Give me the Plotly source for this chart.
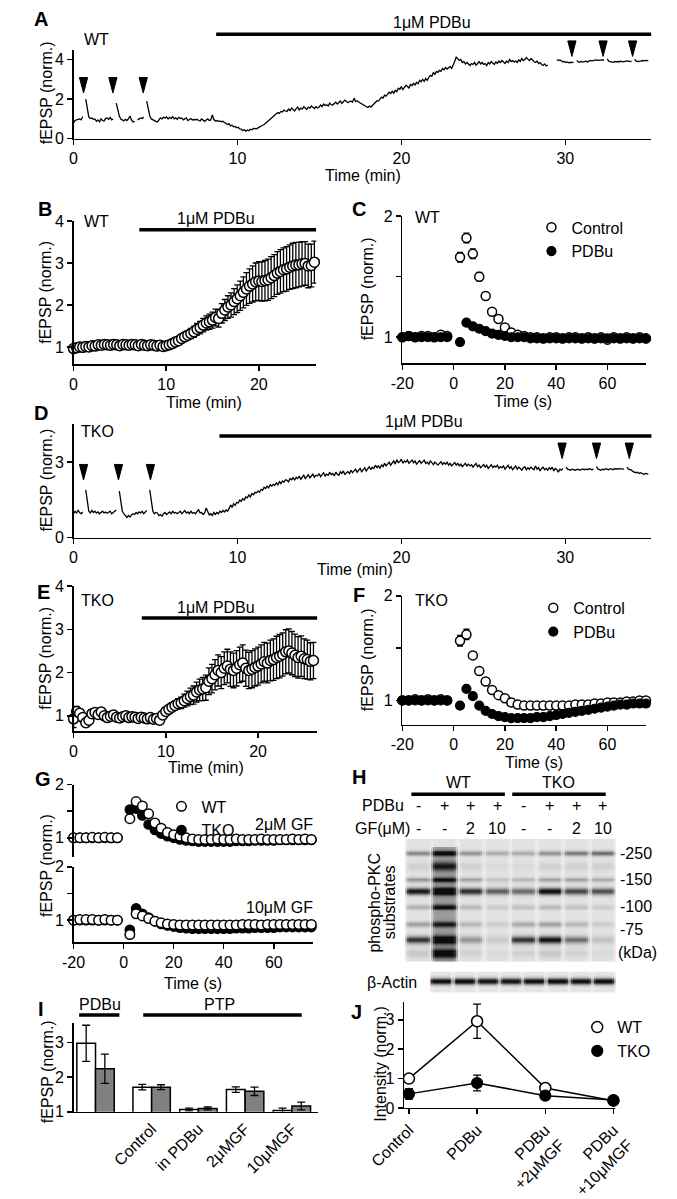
import numpy as np
import plotly.graph_objects as go

W, H = 677, 1199
FONT = "Liberation Sans, Arial, Helvetica, sans-serif"
FS = 16

# ======================= DATA =======================
# Panel A - WT single experiment, one sample every 0.093 min (None = gap during tetanus)
A_step = 0.093
A_rows = [
 [0.80,0.92,0.95,0.98,1.00,0.95,1.12,None,2.00,1.55],
 [1.10,1.02,1.05,0.98,1.00,0.88,0.95,0.85,1.00,0.92],
 [0.90,1.02,1.05,0.98,1.08,0.95,1.00,None,1.80,1.45],
 [1.15,1.00,0.95,0.90,0.98,0.92,1.00,1.15,0.95,0.85],
 [0.88,None,0.95,1.00,1.05,1.02,1.10,None,1.90,1.50],
 [1.15,1.00,0.95,0.92,0.88,0.85,0.95,1.05,1.00,1.08],
 [1.05,1.10,1.00,1.08,1.02,1.12,1.00,1.05,0.98,1.08],
 [1.02,1.05,0.95,1.00,1.05,0.92,0.98,1.02,0.95,0.97],
 [0.95,0.98,0.92,0.90,1.00,0.95,0.88,0.95,1.00,0.92],
 [0.95,1.20,0.98,0.90,0.92,0.88,0.90,0.85,0.88,0.82],
 [0.78,0.72,0.75,0.65,0.68,0.60,0.62,0.55,0.58,0.50],
 [0.48,0.42,0.45,0.38,0.44,0.40,0.48,0.45,0.52,0.50],
 [0.50,0.55,0.58,0.62,0.68,0.72,0.78,0.85,0.90,0.98],
 [1.05,1.12,1.20,1.25,1.32,1.28,1.38,1.35,1.45,1.40],
 [1.38,1.50,1.42,1.55,1.48,1.40,1.52,1.60,1.45,1.55],
 [1.50,1.62,1.55,1.48,1.60,1.55,1.65,1.58,1.52,1.62],
 [1.55,1.60,1.70,1.62,1.75,1.68,1.72,1.65,1.80,1.72],
 [1.70,1.78,1.85,1.75,1.82,1.90,1.78,1.85,1.95,1.88],
 [1.82,1.88,1.90,1.85,2.05,1.88,1.92,1.85,1.80,1.75],
 [1.72,1.68,1.62,1.58,1.65,1.60,1.68,1.75,1.80,1.92],
 [1.90,2.00,2.10,2.05,2.20,2.15,2.25,2.35,2.28,2.40],
 [2.30,2.45,2.38,2.55,2.50,2.62,2.48,2.60,2.70,2.65],
 [2.55,2.75,2.68,2.80,2.72,2.85,2.78,2.95,2.88,3.00],
 [2.90,3.05,2.95,3.10,3.20,3.15,3.35,3.25,3.40,3.35],
 [3.45,3.40,3.55,3.48,3.60,3.52,3.58,3.65,3.55,3.70],
 [3.90,4.12,4.05,3.95,4.00,3.85,3.90,3.78,3.85,3.75],
 [3.70,3.80,3.75,3.85,3.72,3.80,3.90,3.78,3.85,3.75],
 [3.80,3.70,3.85,3.78,3.90,3.82,3.75,3.88,3.80,3.92],
 [3.85,3.95,3.88,3.80,3.92,3.85,4.00,3.90,3.95,3.88],
 [3.92,3.85,3.98,3.90,4.05,3.95,4.00,4.10,4.02,3.95],
 [4.05,3.95,3.90,3.85,3.92,3.80,3.85,3.75,3.70,3.78],
 [3.68,3.72,None,None,None,None,None,4.00,3.95,3.98],
 [3.92,3.88,3.90,3.85,3.88,3.84,3.85,3.84,3.86,None],
 [3.96,3.88,3.86,3.90,3.87,3.90,3.92,3.88,3.92,3.95],
 [3.93,3.96,3.95,3.98,3.96,3.97,3.95,3.98,3.96,None],
 [4.04,3.92,3.90,3.88,3.86,3.90,3.88,3.90,3.89,3.92],
 [3.88,3.90,3.92,3.93,3.92,3.90,3.92,None,4.02,3.92],
 [3.90,3.93,3.92,3.95,3.93,3.96,3.94,3.95],
]
A_pdbu_on, A_pdbu_off = 8.7, 35.25
A_arrow_t = [0.61, 2.40, 4.25, 30.4, 32.3, 34.1]
A_arrow_y = [2.7, 2.7, 2.7, 4.55, 4.55, 4.55]

# Panel D - TKO single experiment, one sample every 0.093 min
D_step = 0.093
D_rows = [
 [0.95,1.05,0.98,1.08,1.00,0.95,1.02,None,1.90,1.40],
 [1.05,0.98,1.08,1.00,1.05,0.98,1.02,0.95,1.00,1.05],
 [0.98,1.02,0.97,1.00,1.05,0.95,1.00,1.05,1.10,None],
 [1.85,1.40,1.05,0.95,0.85,0.80,0.88,0.82,0.90,0.95],
 [0.92,1.00,0.95,1.02,0.98,1.05,0.95,1.00,1.08,None],
 [1.90,1.35,1.05,0.95,1.00,0.98,0.88,0.92,0.85,0.95],
 [1.00,0.92,0.98,1.02,0.95,1.05,0.98,1.00,0.95,1.02],
 [1.05,0.95,1.00,1.08,0.98,1.02,0.95,1.05,0.97,1.00],
 [0.95,1.05,1.12,0.98,1.00,0.92,0.98,1.18,1.00,0.90],
 [0.95,0.88,1.00,0.92,1.00,0.95,1.05,1.00,1.08,1.02],
 [1.10,1.05,1.15,1.30,1.20,1.35,1.28,1.40,1.38,1.50],
 [1.45,1.55,1.50,1.62,1.58,1.70,1.62,1.75,1.70,1.80],
 [1.78,1.85,1.80,1.92,1.88,2.00,1.95,2.05,1.98,2.10],
 [2.05,2.12,2.08,2.18,2.10,2.22,2.15,2.25,2.20,2.30],
 [2.28,2.22,2.35,2.30,2.38,2.28,2.40,2.35,2.45,2.32],
 [2.40,2.48,2.35,2.42,2.50,2.38,2.45,2.52,2.40,2.48],
 [2.45,2.55,2.42,2.50,2.58,2.45,2.52,2.48,2.60,2.50],
 [2.55,2.45,2.60,2.52,2.48,2.62,2.55,2.65,2.50,2.58],
 [2.62,2.55,2.68,2.58,2.65,2.72,2.60,2.68,2.75,2.62],
 [2.70,2.78,2.65,2.75,2.82,2.70,2.80,2.75,2.88,2.78],
 [2.85,2.75,2.90,2.82,2.95,2.85,2.92,3.00,2.88,2.95],
 [3.05,2.92,3.10,2.98,3.02,3.12,2.95,3.05,3.00,3.08],
 [2.95,3.02,3.08,2.98,3.05,2.92,3.00,3.06,2.95,3.02],
 [3.08,2.95,3.00,2.92,3.05,2.98,2.90,3.00,2.95,2.88],
 [2.95,3.02,2.90,2.98,2.92,3.00,2.88,2.95,2.85,2.92],
 [2.98,2.88,2.95,2.85,2.92,2.82,2.90,2.95,2.85,2.92],
 [2.85,2.90,2.80,2.88,2.95,2.82,2.88,2.78,2.85,2.90],
 [2.80,2.88,2.75,2.82,2.90,2.78,2.85,2.80,2.88,2.75],
 [2.82,2.78,2.85,2.72,2.80,2.88,2.75,2.82,2.70,2.78],
 [2.85,2.72,2.80,2.75,2.68,2.78,2.82,2.70,2.78,2.72],
 [2.80,2.75,2.70,2.85,2.72,2.78,2.65,2.75,2.80,2.70],
 [2.75,2.68,2.78,2.72,2.80,2.65,2.75,2.70,2.60,2.72],
 [2.68,2.75,None,2.80,2.72,2.70,2.68,2.72,2.70,2.68],
 [2.70,2.72,2.68,2.70,2.73,2.70,2.72,2.70,2.74,2.72],
 [2.70,2.72,None,2.82,2.72,2.70,2.68,2.72,2.70,2.74],
 [2.72,2.70,2.74,2.72,2.70,2.75,2.72,2.74,2.73,2.72],
 [2.74,2.72,None,2.80,2.72,2.70,2.68,2.62,2.60,2.58],
 [2.60,2.55,2.58,2.55,2.52,2.55,2.53,2.52],
]
D_pdbu_on, D_pdbu_off = 8.9, 35.55
D_arrow_t = [0.61, 2.74, 4.69, 29.8, 31.9, 33.9]
D_arrow_y = [2.6, 2.6, 2.6, 3.45, 3.45, 3.45]

# Panel B - WT average, one point every 20 s (1/3 min)
B_mean = [0.96,0.98,1.00,0.99,1.01,1.00,1.03,1.02,1.05,1.04,1.06,1.05,1.04,1.06,1.05,1.03,
          1.06,1.05,1.04,1.06,1.05,1.03,1.06,1.04,1.03,1.05,1.04,1.02,1.04,1.01,1.03,
          1.05,1.08,1.12,1.15,1.20,1.24,1.28,1.32,1.36,1.42,1.46,1.52,1.57,1.60,1.64,1.70,
          1.68,1.80,1.88,1.95,2.00,2.08,2.15,2.22,2.30,2.38,2.45,2.50,2.55,2.57,2.56,2.58,
          2.60,2.65,2.70,2.76,2.80,2.84,2.86,2.90,2.93,2.95,2.96,2.98,2.99,2.93,2.94,3.02]
B_sem = [0.05,0.04,0.05,0.05,0.04,0.05,0.06,0.05,0.05,0.06,0.05,0.05,0.06,0.05,0.06,0.05,
         0.06,0.05,0.06,0.06,0.05,0.06,0.06,0.05,0.06,0.06,0.07,0.06,0.07,0.08,0.07,
         0.07,0.08,0.08,0.09,0.10,0.10,0.11,0.12,0.13,0.14,0.15,0.16,0.17,0.18,0.19,0.20,
         0.21,0.23,0.25,0.27,0.29,0.31,0.33,0.35,0.37,0.39,0.41,0.43,0.45,0.46,0.47,0.48,
         0.49,0.50,0.50,0.51,0.52,0.52,0.53,0.53,0.54,0.54,0.53,0.53,0.52,0.52,0.51,0.50]
B_pdbu_on, B_pdbu_off = 7.1, 26.2

# Panel E - TKO average, one point every 20 s
E_mean = [0.93,1.10,1.06,0.96,0.84,0.90,1.05,1.08,1.03,1.09,1.00,0.96,0.99,1.02,0.97,
          0.95,0.98,1.00,0.96,0.98,0.97,0.94,0.97,0.95,0.93,0.96,0.92,0.94,0.90,1.02,
          1.10,1.15,1.20,1.24,1.28,1.30,1.35,1.40,1.45,1.48,1.55,1.60,1.62,1.65,1.80,
          1.86,1.95,2.05,2.00,2.10,2.15,2.08,2.05,2.10,2.18,2.22,2.10,2.05,2.08,2.12,
          2.15,2.20,2.25,2.22,2.28,2.30,2.35,2.38,2.42,2.48,2.50,2.45,2.40,2.35,2.38,
          2.32,2.30,2.26,2.28]
E_sem = [0.20,0.12,0.10,0.08,0.09,0.07,0.06,0.06,0.05,0.06,0.05,0.05,0.05,0.05,0.05,
         0.05,0.05,0.05,0.05,0.05,0.05,0.05,0.05,0.05,0.05,0.05,0.05,0.05,0.06,0.06,
         0.07,0.08,0.09,0.10,0.12,0.13,0.15,0.17,0.19,0.21,0.23,0.25,0.27,0.29,0.31,
         0.33,0.35,0.36,0.37,0.38,0.39,0.40,0.40,0.41,0.41,0.42,0.42,0.42,0.43,0.43,
         0.44,0.44,0.45,0.46,0.47,0.48,0.49,0.50,0.50,0.51,0.51,0.50,0.49,0.48,0.47,
         0.46,0.45,0.43,0.42]
E_pdbu_on, E_pdbu_off = 7.4, 26.7

# PTP time course (s) for C, F, G
S_t = [-20,-17.5,-15,-12.5,-10,-7.5,-5,-2.5,
       2.5,5,7.5,10,12.5,15,17.5,20,22.5,25,27.5,30,32.5,35,37.5,40,42.5,45,
       47.5,50,52.5,55,57.5,60,62.5,65,67.5,70,72.5,75]
C_ctrl = [1.00,1.01,1.00,1.01,1.01,1.00,1.02,1.01,
          1.66,1.82,1.69,1.50,1.34,1.21,1.15,1.08,1.04,1.02,1.01,1.00,1.00,0.99,1.00,
          1.00,0.99,1.00,1.00,0.99,1.00,0.99,1.00,0.98,1.00,0.99,1.00,0.99,1.00,0.99]
C_ctrl_sem = [0.015,0.015,0.015,0.015,0.015,0.015,0.015,0.015,
              0.04,0.04,0.04,0.035,0.03,0.025,0.02,0.02,0.015,0.015,0.01,0.01,0.01,0.01,0.01,
              0.01,0.01,0.01,0.01,0.01,0.01,0.01,0.01,0.01,0.01,0.01,0.01,0.01,0.01,0.01]
C_pdbu = [1.00,1.01,1.00,1.00,1.00,1.00,1.00,1.00,
          0.96,1.12,1.09,1.07,1.05,1.03,1.02,1.01,1.00,1.00,1.00,0.99,0.99,0.99,0.99,
          0.99,0.99,0.99,0.99,0.99,0.99,0.99,0.99,0.99,0.99,0.99,0.99,0.99,0.99,0.99]
F_ctrl = [1.00,1.00,1.01,1.00,1.01,1.00,1.01,1.00,
          1.57,1.63,1.43,1.28,1.18,1.10,1.05,1.02,0.98,0.96,0.95,0.95,0.95,0.95,0.95,
          0.95,0.95,0.95,0.96,0.96,0.96,0.97,0.97,0.98,0.98,0.98,0.99,0.99,1.00,1.00]
F_ctrl_sem = [0.015,0.015,0.015,0.015,0.015,0.015,0.015,0.015,
              0.05,0.05,0.03,0.025,0.02,0.02,0.015,0.015,0.01,0.01,0.01,0.01,0.01,0.01,0.01,
              0.01,0.01,0.01,0.01,0.01,0.01,0.01,0.01,0.01,0.01,0.01,0.01,0.01,0.01,0.01]
F_pdbu = [1.00,1.00,1.00,1.00,1.00,1.00,1.00,1.00,
          0.95,1.11,1.04,0.95,0.90,0.87,0.85,0.84,0.83,0.83,0.83,0.83,0.84,0.84,0.85,
          0.86,0.87,0.88,0.89,0.90,0.91,0.92,0.93,0.94,0.95,0.96,0.96,0.97,0.97,0.97]
G2_wt = [1.00,1.00,1.00,1.01,1.00,1.01,1.00,1.00,
         1.36,1.68,1.60,1.45,1.28,1.18,1.10,1.06,1.03,1.00,0.98,0.97,0.97,0.97,0.98,
         0.97,0.97,0.98,0.97,0.97,0.97,0.98,0.97,0.97,0.97,0.97,0.98,0.97,0.98,0.97]
G2_tko = [1.00,1.00,1.00,1.00,1.00,1.00,1.00,1.00,
          1.53,1.55,1.42,1.25,1.15,1.08,1.03,1.00,0.97,0.95,0.94,0.93,0.93,0.93,0.93,
          0.93,0.93,0.94,0.94,0.94,0.95,0.95,0.95,0.95,0.96,0.96,0.96,0.96,0.96,0.96]
G10_wt = [1.00,1.01,1.01,1.01,1.00,1.01,1.00,1.00,
          0.73,1.12,1.08,1.03,0.98,0.95,0.93,0.92,0.91,0.91,0.91,0.91,0.91,0.91,0.91,
          0.91,0.91,0.91,0.92,0.92,0.92,0.91,0.92,0.92,0.92,0.92,0.92,0.92,0.92,0.92]
G10_tko = [1.00,1.00,1.00,1.00,1.00,1.00,1.00,1.00,
           0.82,1.22,1.12,1.05,0.98,0.93,0.90,0.88,0.86,0.85,0.84,0.84,0.84,0.84,0.84,
           0.84,0.84,0.85,0.85,0.85,0.86,0.86,0.86,0.86,0.87,0.87,0.87,0.87,0.87,0.87]

# Panel I - bar summary
I_cats = ["PDBu", "Control", "in PDBu", "2μMGF", "10μMGF"]
I_wt = [2.97, 1.71, 1.07, 1.64, 1.04]
I_wt_sem = [0.52, 0.08, 0.04, 0.08, 0.07]
I_tko = [2.24, 1.71, 1.10, 1.59, 1.17]
I_tko_sem = [0.42, 0.07, 0.04, 0.12, 0.11]

# Panel J - western blot quantification
J_cats = ["Control", "PDBu", "PDBu<br>+2μMGF", "PDBu<br>+10μMGF"]
J_wt = [1.00, 2.95, 0.68, 0.25]
J_wt_sem = [0.04, 0.58, 0.10, 0.03]
J_tko = [0.48, 0.85, 0.42, 0.27]
J_tko_sem = [0.18, 0.27, 0.06, 0.03]

# Panel H - blot lanes and band table (row from blot top, sigma, intensity per lane)
H_pdbu = ["-", "+", "+", "+", "-", "+", "+", "+"]
H_gf = ["-", "-", "2", "10", "-", "-", "2", "10"]
H_kda = ["-250", "-150", "-100", "-75"]
H_bands = [
    (15, 1.8, [0.40, 0.70, 0.35, 0.25, 0.25, 0.35, 0.45, 0.50]),
    (28, 3.0, [0.08, 0.55, 0.08, 0.04, 0.04, 0.08, 0.08, 0.08]),
    (42, 2.0, [0.35, 0.70, 0.30, 0.15, 0.20, 0.30, 0.30, 0.25]),
    (54, 2.5, [0.85, 1.00, 0.75, 0.55, 0.50, 0.90, 0.65, 0.60]),
    (70, 2.0, [0.22, 0.60, 0.18, 0.10, 0.15, 0.18, 0.15, 0.10]),
    (88, 2.0, [0.30, 0.55, 0.20, 0.10, 0.25, 0.30, 0.20, 0.10]),
    (104, 3.0, [0.75, 1.00, 0.35, 0.12, 0.75, 0.90, 0.50, 0.15]),
    (118, 3.0, [0.12, 0.80, 0.08, 0.04, 0.08, 0.12, 0.08, 0.04]),
]
H_smear = [(1, 8, 126, 0.32)]
H_actin = [0.92, 0.95, 0.90, 0.90, 0.92, 0.95, 0.92, 0.95]

# ======================= HELPERS =======================
def flat(rows):
    out = []
    for r in rows:
        out += r
    return out

def fx(p):
    return p / W

def fy(p):
    return 1 - p / H

def dx(a, b):
    return [fx(a), fx(b)]

def dy(top, bot):
    return [fy(bot), fy(top)]

def axis(**kw):
    d = dict(showline=True, linecolor="black", linewidth=1.5, ticks="outside",
             ticklen=5, tickwidth=1.5, tickcolor="black", showgrid=False,
             zeroline=False, fixedrange=True,
             tickfont=dict(size=FS, family=FONT, color="black"))
    d.update(kw)
    return d

def hidden(**kw):
    d = dict(visible=False, showgrid=False, zeroline=False, fixedrange=True)
    d.update(kw)
    return d

def txt(text, x, y, size=FS, xa="center", ya="middle", bold=False, angle=0,
        xref="paper"):
    xv = fx(x) if xref == "paper" else x
    return dict(text=("<b>%s</b>" % text) if bold else text, x=xv, y=fy(y),
                xref=xref, yref="paper", xanchor=xa, yanchor=ya, showarrow=False,
                textangle=angle, font=dict(size=size, family=FONT, color="black"))

def hline(x0, x1, y, xref="paper", w=3.5):
    if xref == "paper":
        x0, x1 = fx(x0), fx(x1)
    return dict(type="line", xref=xref, yref="paper", x0=x0, x1=x1,
                y0=fy(y), y1=fy(y), line=dict(color="black", width=w))

def arrows(ts, ys, ppx, ppy, w=9.0, h=16.0):
    xs, yy = [], []
    for t, v in zip(ts, ys):
        hw, hh = w / 2 / ppx, h / 2 / ppy
        xs += [t - hw, t + hw, t, t - hw, None]
        yy += [v + hh, v + hh, v - hh, v + hh, None]
    return xs, yy

OPEN = dict(symbol="circle", color="white", line=dict(color="black", width=1.5))
FILL = dict(symbol="circle", color="black", line=dict(color="black", width=1.2))

def mk(base, size):
    m = dict(base)
    m["size"] = size
    return m

def eb(arr, width=3):
    return dict(type="data", array=arr, color="black", thickness=1.3, width=width)

PPX_AD = 631 / 35.25   # px per minute on A and D

fig = go.Figure()

# ---------- A ----------
A_vals = flat(A_rows)
A_t = [round(i * A_step, 3) for i in range(len(A_vals))]
fig.add_trace(go.Scatter(x=A_t, y=A_vals, mode="lines", connectgaps=False,
                         line=dict(color="black", width=1.3), xaxis="x", yaxis="y",
                         showlegend=False, hoverinfo="skip"))
ax_, ay_ = arrows(A_arrow_t, A_arrow_y, PPX_AD, 92 / 4.5)
fig.add_trace(go.Scatter(x=ax_, y=ay_, mode="lines", fill="toself", fillcolor="black",
                         line=dict(color="black", width=1), xaxis="x13", yaxis="y13",
                         showlegend=False, hoverinfo="skip"))

# ---------- D ----------
D_vals = flat(D_rows)
D_t = [round(i * D_step, 3) for i in range(len(D_vals))]
fig.add_trace(go.Scatter(x=D_t, y=D_vals, mode="lines", connectgaps=False,
                         line=dict(color="black", width=1.3), xaxis="x4", yaxis="y4",
                         showlegend=False, hoverinfo="skip"))
dx_, dy_ = arrows(D_arrow_t, D_arrow_y, PPX_AD, 117 / 4.5)
fig.add_trace(go.Scatter(x=dx_, y=dy_, mode="lines", fill="toself", fillcolor="black",
                         line=dict(color="black", width=1), xaxis="x4", yaxis="y4",
                         showlegend=False, hoverinfo="skip"))

# ---------- B / E ----------
B_t = [i / 3 for i in range(len(B_mean))]
fig.add_trace(go.Scatter(x=B_t, y=B_mean, mode="markers", marker=mk(OPEN, 10),
                         error_y=eb(B_sem), xaxis="x2", yaxis="y2", cliponaxis=False,
                         showlegend=False))
E_t = [i / 3 for i in range(len(E_mean))]
fig.add_trace(go.Scatter(x=E_t, y=E_mean, mode="markers", marker=mk(OPEN, 10),
                         error_y=eb(E_sem), xaxis="x5", yaxis="y5", cliponaxis=False,
                         showlegend=False))

# ---------- C / F ----------
for (ctrl, csem, pd, xa, ya, lg) in [(C_ctrl, C_ctrl_sem, C_pdbu, "x3", "y3", "legend"),
                                     (F_ctrl, F_ctrl_sem, F_pdbu, "x6", "y6", "legend2")]:
    fig.add_trace(go.Scatter(x=S_t, y=ctrl, mode="markers", marker=mk(OPEN, 9),
                             error_y=eb(csem), xaxis=xa, yaxis=ya, cliponaxis=False,
                             name="Control", legend=lg))
    fig.add_trace(go.Scatter(x=S_t, y=pd, mode="markers", marker=mk(FILL, 9),
                             xaxis=xa, yaxis=ya, cliponaxis=False, name="PDBu", legend=lg))

# ---------- G ----------
fig.add_trace(go.Scatter(x=S_t, y=G2_tko, mode="markers", marker=mk(FILL, 9.5),
                         xaxis="x7", yaxis="y7", cliponaxis=False, showlegend=False))
fig.add_trace(go.Scatter(x=S_t, y=G2_wt, mode="markers", marker=mk(OPEN, 9.5),
                         xaxis="x7", yaxis="y7", cliponaxis=False, showlegend=False))
fig.add_trace(go.Scatter(x=S_t, y=G10_tko, mode="markers", marker=mk(FILL, 9.5),
                         xaxis="x8", yaxis="y8", cliponaxis=False, showlegend=False))
fig.add_trace(go.Scatter(x=S_t, y=G10_wt, mode="markers", marker=mk(OPEN, 9.5),
                         xaxis="x8", yaxis="y8", cliponaxis=False, showlegend=False))
fig.add_trace(go.Scatter(x=[None], y=[None], mode="markers", marker=mk(OPEN, 9.5),
                         xaxis="x7", yaxis="y7", name="WT", legend="legend3"))
fig.add_trace(go.Scatter(x=[None], y=[None], mode="markers", marker=mk(FILL, 9.5),
                         xaxis="x7", yaxis="y7", name="TKO", legend="legend3"))

# ---------- I ----------
I_pos = [0, 1.2, 2.2, 3.2, 4.2]
fig.add_trace(go.Bar(x=[p - 0.2 for p in I_pos], y=I_wt, width=0.4,
                     marker=dict(color="white", line=dict(color="black", width=1.5)),
                     error_y=eb(I_wt_sem, 4), xaxis="x9", yaxis="y9", showlegend=False))
fig.add_trace(go.Bar(x=[p + 0.2 for p in I_pos], y=I_tko, width=0.4,
                     marker=dict(color="#808080", line=dict(color="black", width=1.5)),
                     error_y=eb(I_tko_sem, 4), xaxis="x9", yaxis="y9", showlegend=False))

# ---------- J ----------
J_x = list(range(len(J_cats)))
fig.add_trace(go.Scatter(x=J_x, y=J_wt, mode="lines", line=dict(color="black", width=1.5),
                         xaxis="x10", yaxis="y10", showlegend=False))
fig.add_trace(go.Scatter(x=J_x, y=J_tko, mode="lines", line=dict(color="black", width=1.5),
                         xaxis="x10", yaxis="y10", showlegend=False))
fig.add_trace(go.Scatter(x=J_x, y=J_wt, mode="markers", marker=mk(OPEN, 11),
                         error_y=eb(J_wt_sem, 4), xaxis="x10", yaxis="y10",
                         cliponaxis=False, name="WT", legend="legend4"))
fig.add_trace(go.Scatter(x=J_x, y=J_tko, mode="markers", marker=mk(FILL, 11),
                         error_y=eb(J_tko_sem, 4), xaxis="x10", yaxis="y10",
                         cliponaxis=False, name="TKO", legend="legend4"))

# ---------- H blot ----------
SUB = 14
prof = [0.45, 0.85] + [1.0] * (SUB - 4) + [0.85, 0.45]
n_lanes = len(H_pdbu)
bx = [L - 0.5 + (j + 0.5) / SUB for L in range(n_lanes) for j in range(SUB)]
rows_n = 127
Z = []
for r in range(rows_n):
    row = []
    for L in range(n_lanes):
        v = 0.10
        for (rc, sg, ints) in H_bands:
            v += ints[L] * np.exp(-0.5 * ((r - rc) / sg) ** 2)
        for (lane, r0, r1, lev) in H_smear:
            if lane == L and r0 <= r <= r1:
                v += lev
        v = min(v, 1.0)
        for j in range(SUB):
            row.append(v * prof[j])
    Z.append(row)
CS = [[0, "#f2f2f2"], [0.1, "#e2e2e2"], [0.4, "#a0a0a0"], [0.7, "#505050"], [1, "#0c0c0c"]]
fig.add_trace(go.Heatmap(z=Z, x=bx, y=list(range(rows_n)), colorscale=CS, zmin=0, zmax=1,
                         showscale=False, xaxis="x11", yaxis="y11", hoverinfo="skip"))
Za = []
for r in range(22):
    row = []
    for L in range(n_lanes):
        v = 0.08 + H_actin[L] * np.exp(-0.5 * ((r - 10) / 2.3) ** 2)
        v = min(v, 1.0)
        for j in range(SUB):
            row.append(v * prof[j])
    Za.append(row)
fig.add_trace(go.Heatmap(z=Za, x=bx, y=list(range(22)), colorscale=CS, zmin=0, zmax=1,
                         showscale=False, xaxis="x12", yaxis="y12", hoverinfo="skip"))

# ======================= LAYOUT =======================
lay = dict(width=W, height=H, margin=dict(l=0, r=0, t=0, b=0),
           paper_bgcolor="white", plot_bgcolor="rgba(0,0,0,0)",
           font=dict(family=FONT, size=FS, color="black"), bargap=0)

S_ticks = dict(tickvals=[-20, 0, 20, 40, 60], ticktext=["-20", "0", "20", "40", "60"])

lay["xaxis"] = axis(domain=dx(41, 672), range=[0, 35.25], tickvals=[0, 10, 20, 30], anchor="y")
lay["yaxis"] = axis(domain=dy(43, 135), range=[0, 4.5], tickvals=[0, 2, 4], anchor="x")
lay["xaxis13"] = hidden(domain=dx(41, 672), range=[0, 35.25], anchor="y13")
lay["yaxis13"] = hidden(domain=dy(8, 135), range=[0, 127 / (92 / 4.5)], anchor="x13")

lay["xaxis2"] = axis(domain=dx(41, 306), range=[0, 26.2], tickvals=[0, 10, 20], anchor="y2")
lay["yaxis2"] = axis(domain=dy(220, 368), range=[0.585, 4], tickvals=[1, 2, 3, 4], anchor="x2")

lay["xaxis3"] = axis(domain=dx(400, 666), range=[-20, 75], anchor="y3", **S_ticks)
lay["yaxis3"] = axis(domain=dy(215, 367), range=[0.784, 2], tickvals=[1, 1.5, 2],
                     ticktext=["1", "", "2"], anchor="x3")

lay["xaxis4"] = axis(domain=dx(41, 672), range=[0, 35.25], tickvals=[0, 10, 20, 30], anchor="y4")
lay["yaxis4"] = axis(domain=dy(430, 547), range=[0, 4.5], tickvals=[0, 3], anchor="x4")

lay["xaxis5"] = axis(domain=dx(41, 307), range=[0, 26.4], tickvals=[0, 10, 20], anchor="y5")
lay["yaxis5"] = axis(domain=dy(597, 747), range=[0.642, 4], tickvals=[1, 2, 3, 4], anchor="x5")

lay["xaxis6"] = axis(domain=dx(400, 666), range=[-20, 75], anchor="y6", **S_ticks)
lay["yaxis6"] = axis(domain=dy(607, 740), range=[0.769, 2], tickvals=[1, 1.5, 2],
                     ticktext=["1", "", "2"], anchor="x6")

lay["xaxis7"] = hidden(domain=dx(41, 302), range=[-20, 75.5], anchor="y7")
lay["yaxis7"] = axis(domain=dy(802, 877), range=[0.636, 2], tickvals=[1, 1.5, 2],
                     ticktext=["1", "", "2"], anchor="x7")
lay["xaxis8"] = axis(domain=dx(41, 302), range=[-20, 75.5], anchor="y8", **S_ticks)
lay["yaxis8"] = axis(domain=dy(887, 965), range=[0.582, 2], tickvals=[1, 1.5, 2],
                     ticktext=["1", "", "2"], anchor="x8")

lay["xaxis9"] = axis(domain=dx(41, 308), range=[-0.47, 4.76], tickvals=I_pos[1:],
                     ticktext=I_cats[1:], ticks="", tickangle=-45, anchor="y9")
lay["yaxis9"] = axis(domain=dy(1048, 1140), range=[1, 3.56], tickvals=[1, 2, 3], anchor="x9")

lay["xaxis10"] = axis(domain=dx(402, 632), range=[-0.07, 3.02], tickvals=J_x,
                      ticktext=J_cats, tickangle=-45, anchor="y10")
lay["yaxis10"] = axis(domain=dy(1027, 1136), range=[0, 3.59], tickvals=[0, 1, 2, 3], anchor="x10")

lay["xaxis11"] = hidden(domain=dx(403, 633), range=[-0.5, 7.5], anchor="y11")
lay["yaxis11"] = hidden(domain=dy(858, 985), range=[rows_n - 0.5, -0.5], anchor="x11")
lay["xaxis12"] = hidden(domain=dx(430, 633), range=[-0.5, 7.5], anchor="y12")
lay["yaxis12"] = hidden(domain=dy(995, 1017), range=[21.5, -0.5], anchor="x12")

def leg(x, y):
    return dict(x=fx(x), y=fy(y), xanchor="left", yanchor="top", bgcolor="rgba(0,0,0,0)",
                font=dict(size=16, family=FONT, color="black"), tracegroupgap=0,
                itemwidth=30, borderwidth=0)

lay["legend"] = leg(541, 209)
lay["legend2"] = leg(543, 602)
lay["legend3"] = leg(137, 807)
lay["legend4"] = leg(591, 1035)

ann = []
for L, x, y in [("A", 6, 11), ("B", 10, 208), ("C", 353, 208), ("D", 6, 418), ("E", 8, 603),
                ("F", 353, 606), ("G", 8, 796), ("H", 353, 794), ("I", 6, 1034), ("J", 350, 1037)]:
    ann.append(txt(L, x, y, size=20, bold=True))
ann += [txt("WT", 50, 33, xa="left"), txt("1μM PDBu", 432, 15),
        txt("WT", 50, 220, xa="left"), txt("1μM PDBu", 197, 217),
        txt("WT", 412, 216, xa="left"),
        txt("TKO", 47, 437, xa="left"), txt("1μM PDBu", 424, 427),
        txt("TKO", 47, 612, xa="left"), txt("1μM PDBu", 197, 619),
        txt("TKO", 412, 612, xa="left"),
        txt("2μM GF", 305, 843, xa="right"), txt("10μM GF", 305, 929, xa="right")]
ann += [txt("fEPSP (norm.)", 11, 88, angle=-90),
        txt("Time (min)", 357, 173),
        txt("fEPSP (norm.)", 11, 294, angle=-90),
        txt("Time (min)", 183, 407),
        txt("fEPSP (norm.)", 362, 290, angle=-90),
        txt("Time (s)", 532, 406),
        txt("fEPSP (norm.)", 11, 488, angle=-90),
        txt("Time (min)", 348, 580),
        txt("fEPSP (norm.)", 11, 672, angle=-90),
        txt("Time (min)", 186, 784),
        txt("fEPSP (norm.)", 362, 673, angle=-90),
        txt("Time (s)", 544, 779),
        txt("fEPSP (norm.)", 12, 885, angle=-90),
        txt("Time (s)", 171, 1007),
        txt("fEPSP (norm.)", 12, 1098, angle=-90),
        txt("Intensity (norm.)", 376, 1090, angle=-90)]
ann += [txt("PDBu", 0.1, 1029, xref="x9"), txt("PTP", 2.65, 1029, xref="x9")]
ann += [txt("WT", 1.52, 800, xref="x11"), txt("TKO", 5.34, 800, xref="x11"),
        txt("PDBu", 404, 824, xa="right"), txt("GF(μM)", 411, 847, xa="right")]
for i, (p, g) in enumerate(zip(H_pdbu, H_gf)):
    ann.append(txt(p, i, 824, xref="x11"))
    ann.append(txt(g, i, 847, xref="x11"))
for lab, y in zip(H_kda, [873, 900, 928, 952]):
    ann.append(txt(lab, 635, y, xa="left"))
ann += [txt("(kDa)", 633, 975, xa="left"),
        txt("phospho-PKC", 370, 924, angle=-90),
        txt("substrates", 386, 924, angle=-90),
        txt("β-Actin", 418, 1006, xa="right")]
lay["annotations"] = ann

lay["shapes"] = [
    hline(A_pdbu_on, A_pdbu_off, 27, xref="x"),
    hline(B_pdbu_on, B_pdbu_off, 229, xref="x2"),
    hline(D_pdbu_on, D_pdbu_off, 442, xref="x4"),
    hline(E_pdbu_on, E_pdbu_off, 630, xref="x5"),
    hline(-0.35, 0.51, 1040, xref="x9"),
    hline(1.02, 4.41, 1040, xref="x9"),
    hline(-0.26, 3.29, 812, xref="x11"),
    hline(3.57, 7.12, 812, xref="x11"),
]

fig.update_layout(**lay)
fig.write_html("out.html", config={"displayModeBar": False, "staticPlot": True},
               post_script="document.body.style.margin='0px';document.body.style.overflow='hidden';")
